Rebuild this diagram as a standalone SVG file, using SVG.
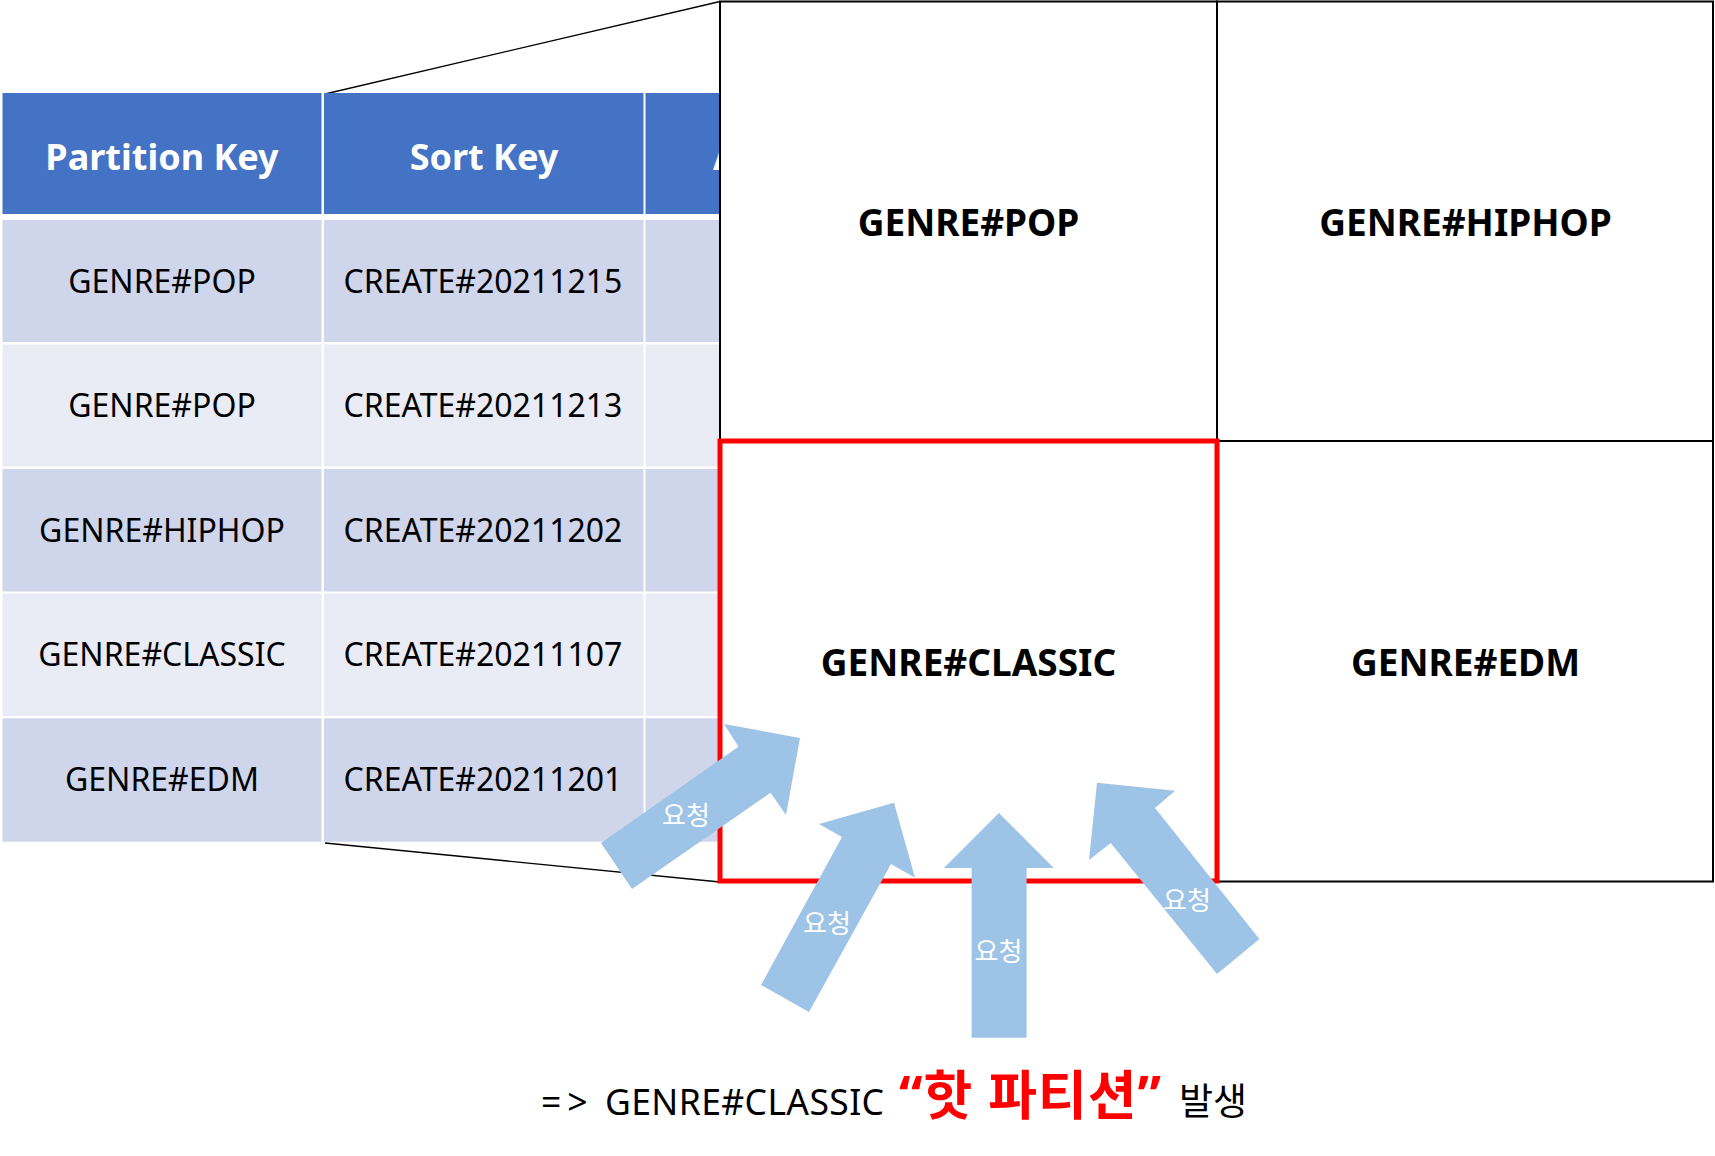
<svg xmlns="http://www.w3.org/2000/svg" width="1715" height="1156" viewBox="0 0 1715 1156">
<style>
  text { font-family: "Noto Sans", "Noto Sans CJK KR", sans-serif; }
  .hdr { fill: #4472C4; }
  .odd { fill: #CFD5EA; }
  .even { fill: #E9EBF5; }
  .htxt { fill: #FFFFFF; font-size: 36px; font-weight: bold; text-anchor: middle; }
  .ctxt { fill: #000000; font-size: 32px; text-anchor: middle; }
  .cell { fill: #FFFFFF; stroke: #000000; stroke-width: 2; }
  .gtxt { fill: #000000; font-size: 37px; font-weight: bold; text-anchor: middle; }
  .arrow { fill: #9DC3E6; }
  .lbl { fill: #FFFFFF; font-size: 26px; text-anchor: middle; font-family: "Noto Sans CJK KR", sans-serif; }
  .conn { stroke: #000000; stroke-width: 1.3; fill: none; }
</style>
<defs>
  <clipPath id="col3clip"><rect x="645.5" y="93" width="74" height="121"/></clipPath>
</defs>
<rect x="0" y="0" width="1715" height="1156" fill="#FFFFFF"/>

<g id="connectors">
  <line class="conn" x1="325" y1="94" x2="720" y2="1.5"/>
  <line class="conn" x1="325" y1="843" x2="720" y2="882"/>
</g>

<g id="table">
  <g id="table-header">
    <rect class="hdr" x="2.5" y="93" width="319" height="121"/>
    <rect class="hdr" x="324" y="93" width="319.5" height="121"/>
    <rect class="hdr" x="645.5" y="93" width="80" height="121"/>
    <text class="htxt" x="162" y="169.5">Partition Key</text>
    <text class="htxt" x="484" y="169.5">Sort Key</text>
    <text class="htxt" x="713" y="169.5" style="text-anchor:start" clip-path="url(#col3clip)">A</text>
  </g>
  <g id="row1">
    <rect class="odd" x="2.5" y="220" width="319" height="122"/>
    <rect class="odd" x="324" y="220" width="319.5" height="122"/>
    <rect class="odd" x="645.5" y="220" width="80" height="122"/>
    <text class="ctxt" x="162" y="292.5">GENRE#POP</text>
    <text class="ctxt" x="483" y="292.5">CREATE#20211215</text>
  </g>
  <g id="row2">
    <rect class="even" x="2.5" y="344.5" width="319" height="122"/>
    <rect class="even" x="324" y="344.5" width="319.5" height="122"/>
    <rect class="even" x="645.5" y="344.5" width="80" height="122"/>
    <text class="ctxt" x="162" y="417">GENRE#POP</text>
    <text class="ctxt" x="483" y="417">CREATE#20211213</text>
  </g>
  <g id="row3">
    <rect class="odd" x="2.5" y="469" width="319" height="122.5"/>
    <rect class="odd" x="324" y="469" width="319.5" height="122.5"/>
    <rect class="odd" x="645.5" y="469" width="80" height="122.5"/>
    <text class="ctxt" x="162" y="541.5">GENRE#HIPHOP</text>
    <text class="ctxt" x="483" y="541.5">CREATE#20211202</text>
  </g>
  <g id="row4">
    <rect class="even" x="2.5" y="593.5" width="319" height="122.5"/>
    <rect class="even" x="324" y="593.5" width="319.5" height="122.5"/>
    <rect class="even" x="645.5" y="593.5" width="80" height="122.5"/>
    <text class="ctxt" x="162" y="666">GENRE#CLASSIC</text>
    <text class="ctxt" x="483" y="666">CREATE#20211107</text>
  </g>
  <g id="row5">
    <rect class="odd" x="2.5" y="718.3" width="319" height="123.4"/>
    <rect class="odd" x="324" y="718.3" width="319.5" height="123.4"/>
    <rect class="odd" x="645.5" y="718.3" width="80" height="123.4"/>
    <text class="ctxt" x="162" y="791">GENRE#EDM</text>
    <text class="ctxt" x="483" y="791">CREATE#20211201</text>
  </g>
</g>

<g id="partition-grid">
  <g id="cell-pop">
    <rect class="cell" x="720" y="1.5" width="497" height="439.5"/>
    <text class="gtxt" x="968.5" y="235.5">GENRE#POP</text>
  </g>
  <g id="cell-hiphop">
    <rect class="cell" x="1217" y="1.5" width="496" height="439.5"/>
    <text class="gtxt" x="1465.5" y="235.5">GENRE#HIPHOP</text>
  </g>
  <g id="cell-edm">
    <rect class="cell" x="1217" y="441" width="496" height="440.5"/>
    <text class="gtxt" x="1465.5" y="675.5">GENRE#EDM</text>
  </g>
  <g id="cell-classic">
    <rect class="cell" x="720" y="441" width="497" height="440.5"/>
    <text class="gtxt" x="968.5" y="675.5">GENRE#CLASSIC</text>
  </g>
  <rect id="hot-highlight" x="720" y="441" width="497" height="440" fill="none" stroke="#FF0000" stroke-width="5"/>
</g>

<g id="requests">
  <g id="req1">
    <polygon class="arrow" points="601,843 738.5,746.7 724,724 800,738 786,815 770.6,792.7 632,889"/>
    <text class="lbl" x="686" y="825">요청</text>
  </g>
  <g id="req2">
    <polygon class="arrow" points="761,985 842,837 819,824 894,802.7 915,877.7 891,864 809,1012"/>
    <text class="lbl" x="827" y="933">요청</text>
  </g>
  <g id="req3">
    <polygon class="arrow" points="971.6,1037.7 971.6,868 943.9,868 998.9,813 1053.9,868 1026.6,868 1026.6,1037.7"/>
    <text class="lbl" x="998.5" y="961">요청</text>
  </g>
  <g id="req4">
    <polygon class="arrow" points="1217,974 1110.7,843 1089,860 1097,782.7 1175,790.7 1155,808 1259.4,939"/>
    <text class="lbl" x="1187" y="909.5">요청</text>
  </g>
</g>

<g id="caption">
  <text x="541" y="1114.5" style="font-size:35.5px; fill:#000000"><tspan letter-spacing="6">=&gt;</tspan><tspan x="605" textLength="279" lengthAdjust="spacing">GENRE#CLASSIC</tspan></text>
  <text x="899" y="1115" style="font-size:53px; font-weight:bold; fill:#FF0000" textLength="262" lengthAdjust="spacing">“핫 파티션”</text>
  <text x="1179" y="1114.5" style="font-size:37px; fill:#000000; font-family:'Noto Sans CJK KR', sans-serif">발생</text>
</g>
</svg>
